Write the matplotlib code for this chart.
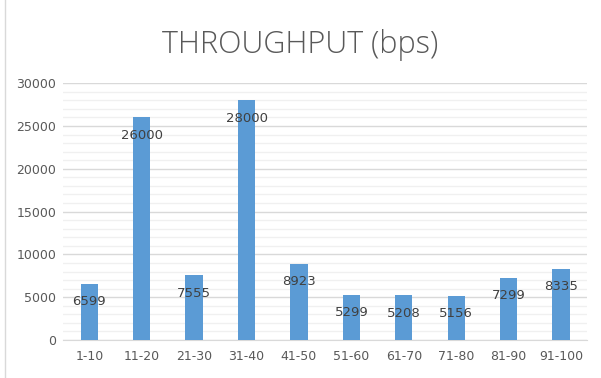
import matplotlib
matplotlib.use("Agg")
import matplotlib.pyplot as plt
from matplotlib.ticker import MultipleLocator
from matplotlib.lines import Line2D

categories = ["1-10", "11-20", "21-30", "31-40", "41-50", "51-60", "61-70", "71-80", "81-90", "91-100"]
values = [6599, 26000, 7555, 28000, 8923, 5299, 5208, 5156, 7299, 8335]
title = "THROUGHPUT (bps)"

fig = plt.figure(figsize=(6.01, 3.78), dpi=100)
ax = fig.add_axes([0.105, 0.1005, 0.872, 0.6795])
x = list(range(len(categories)))
ax.bar(x, values, width=0.33, color="#5B9BD5", zorder=3)
ax.set_xlim(-0.5, len(categories) - 0.5)
ax.set_ylim(0, 30000)
ax.yaxis.set_major_locator(MultipleLocator(5000))
ax.yaxis.set_minor_locator(MultipleLocator(1000))
ax.grid(axis="y", which="major", color="#D9D9D9", linewidth=1, zorder=0)
ax.grid(axis="y", which="minor", color="#F0F0F0", linewidth=1, zorder=0)
for s in ["top", "right", "left"]:
    ax.spines[s].set_visible(False)
ax.spines["bottom"].set_color("#D9D9D9")
ax.tick_params(axis="both", which="both", length=0, colors="#595959", labelsize=9)
ax.tick_params(axis="x", pad=7)
ax.tick_params(axis="y", pad=5)
ax.set_xticks(x)
ax.set_xticklabels(categories)
for xi, v in zip(x, values):
    ax.annotate(str(v), (xi, v), xytext=(0, -13), textcoords="offset points",
                ha="center", va="center", fontsize=9.5, color="#404040", zorder=4)
fig.text(0.5, 0.881, title, ha="center", va="center", fontsize=22, color="#595959",
         family="Open Sans", fontweight="light")
fig.add_artist(Line2D([0.008, 0.008], [0, 1], transform=fig.transFigure, color="#D9D9D9", linewidth=1))
fig.savefig("out.png", dpi=100)
